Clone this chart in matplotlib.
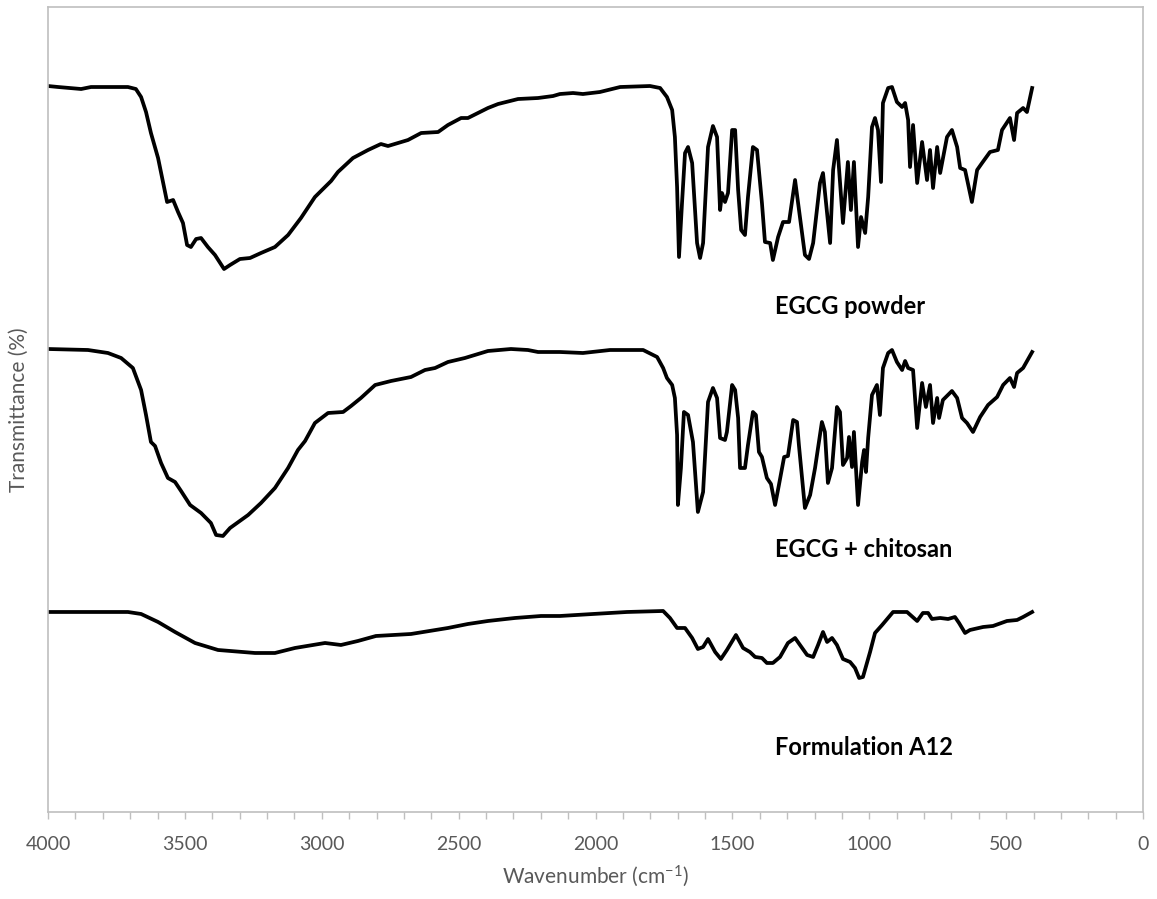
import numpy as np
import matplotlib
matplotlib.use("Agg")
import matplotlib.pyplot as plt
from matplotlib.ticker import MultipleLocator

plt.rcParams['font.family'] = ['Lato', 'DejaVu Sans']
plt.rcParams['mathtext.default'] = 'regular'

# FTIR spectra (wavenumber in cm-1, offset transmittance in a.u.)
egcg_wn = [4000, 3963, 3879, 3843, 3755, 3708, 3679, 3660, 3642, 3624, 3598, 3580, 3565, 3543,
           3525, 3507, 3492, 3478, 3459, 3441, 3416, 3390, 3357, 3335, 3299, 3262, 3222, 3171,
           3123, 3076, 3025, 2966, 2941, 2886, 2831, 2784, 2758, 2685, 2637, 2575, 2539, 2491,
           2466, 2393, 2356, 2283, 2210, 2155, 2130, 2082, 2046, 1984, 1910, 1801, 1764, 1739,
           1720, 1710, 1702, 1695, 1684, 1673, 1662, 1647, 1629, 1618, 1607, 1589, 1571, 1556,
           1545, 1538, 1527, 1516, 1501, 1490, 1479, 1468, 1454, 1443, 1425, 1410, 1392, 1381,
           1362, 1352, 1333, 1315, 1293, 1271, 1260, 1235, 1220, 1205, 1180, 1169, 1143, 1132,
           1118, 1096, 1078, 1067, 1056, 1041, 1030, 1015, 1004, 990, 979, 968, 957, 950, 931,
           917, 899, 880, 869, 858, 851, 840, 825, 807, 789, 778, 767, 752, 741, 716, 698, 679,
           668, 650, 625, 606, 588, 559, 530, 515, 486, 471, 460, 438, 424, 405]
egcg_t = [726, 725, 723, 725, 725, 725, 723, 715, 700, 679, 654, 630, 610, 612,
          600, 589, 567, 565, 573, 574, 565, 557, 543, 547, 553, 554, 559, 565,
          577, 594, 615, 631, 640, 654, 662, 668, 666, 672, 679, 680, 687, 694,
          694, 704, 708, 713, 714, 716, 718, 719, 718, 720, 725, 726, 724, 715,
          702, 675, 625, 555, 609, 659, 665, 649, 569, 554, 569, 665, 686, 675,
          602, 619, 610, 619, 682, 682, 622, 582, 577, 615, 665, 662, 609, 570,
          569, 552, 575, 590, 590, 632, 609, 557, 553, 569, 629, 639, 569, 642,
          672, 589, 650, 602, 650, 565, 595, 579, 615, 685, 694, 682, 630, 709, 724,
          725, 710, 705, 709, 692, 645, 687, 629, 670, 632, 662, 624, 665, 639, 675, 682, 665,
          644, 642, 610, 642, 649, 660, 662, 682, 694, 672, 699, 704, 700, 724]

chit_wn = [4000, 3854, 3781, 3733, 3690, 3660, 3642, 3624, 3609, 3587, 3562, 3536, 3514, 3481,
           3441, 3405, 3386, 3361, 3335, 3269, 3222, 3171, 3123, 3087, 3061, 3025, 2977, 2922,
           2893, 2857, 2805, 2747, 2674, 2623, 2586, 2539, 2477, 2393, 2309, 2247, 2210, 2130,
           2046, 1947, 1826, 1775, 1753, 1739, 1720, 1710, 1702, 1699, 1688, 1677, 1662, 1644,
           1626, 1607, 1589, 1571, 1556, 1545, 1527, 1520, 1501, 1490, 1479, 1472, 1454, 1443,
           1425, 1414, 1403, 1392, 1374, 1359, 1344, 1330, 1311, 1297, 1278, 1264, 1257, 1235,
           1216, 1198, 1173, 1162, 1151, 1136, 1118, 1107, 1096, 1081, 1074, 1063, 1056, 1041,
           1026, 1019, 1012, 1004, 990, 972, 961, 950, 931, 917, 899, 880, 869, 858, 840, 825,
           807, 793, 778, 767, 752, 745, 731, 698, 679, 661, 643, 621, 595, 566, 533, 511, 486,
           471, 460, 438, 405]
chit_t = [463, 462, 459, 454, 444, 422, 397, 370, 366, 349, 334, 330, 321, 307,
          299, 289, 277, 276, 284, 297, 309, 324, 344, 362, 371, 389, 399, 400,
          406, 414, 427, 431, 435, 442, 444, 450, 454, 461, 463, 462, 460, 460,
          459, 462, 462, 455, 444, 434, 427, 414, 377, 307, 344, 400, 397, 370,
          300, 320, 410, 424, 414, 374, 372, 380, 427, 422, 394, 344, 344, 367,
          400, 397, 360, 355, 334, 328, 307, 327, 355, 356, 392, 390, 367, 304,
          317, 344, 390, 380, 329, 344, 405, 400, 347, 354, 375, 345, 380, 307,
          350, 362, 340, 374, 417, 427, 397, 444, 459, 462, 450, 442, 451, 444, 442, 384,
          429, 405, 427, 389, 414, 394, 412, 421, 414, 394, 389, 380, 395, 407, 415, 427, 434,
          425, 439, 444, 460]

a12_wn = [4000, 3708, 3660, 3598, 3536, 3463, 3379, 3244, 3171, 3098, 2988, 2930, 2868, 2802,
          2674, 2539, 2466, 2393, 2294, 2199, 2130, 2009, 1885, 1753, 1728, 1702, 1673, 1647,
          1626, 1607, 1589, 1563, 1542, 1520, 1487, 1461, 1436, 1417, 1392, 1374, 1352, 1326,
          1297, 1271, 1253, 1227, 1205, 1187, 1169, 1154, 1136, 1118, 1096, 1070, 1052, 1037,
          1023, 997, 979, 953, 913, 862, 825, 804, 785, 771, 741, 712, 687, 672, 650, 632,
          584, 548, 497, 460, 438, 405]
a12_t = [200, 200, 198, 190, 180, 169, 162, 159, 159, 164, 169, 167, 171, 176,
         178, 184, 188, 191, 194, 196, 196, 198, 200, 201, 194, 184, 184, 174,
         163, 165, 173, 160, 153, 162, 177, 164, 160, 155, 154, 149, 149, 155,
         169, 174, 167, 157, 155, 167, 180, 170, 174, 167, 153, 150, 144, 134,
         135, 160, 179, 187, 200, 200, 191, 199, 199, 193, 194, 193, 195, 189, 179, 182,
         185, 186, 191, 192, 195, 200]

series = [(egcg_wn, egcg_t, "EGCG powder", 505),
          (chit_wn, chit_t, "EGCG + chitosan", 262),
          (a12_wn, a12_t, "Formulation A12", 64)]

fig = plt.figure(figsize=(11.57, 8.99), dpi=100)
ax = fig.add_axes([0.0415, 0.0968, 0.9464, 0.8954])

for wn, t, name, label_y in series:
    ax.plot(wn, t, color='black', linewidth=2.7, solid_joinstyle='round')
    ax.text(1345, label_y, name, fontsize=17, fontweight='bold', ha='left', va='center')

ax.set_xlim(4000, 0)
ax.set_ylim(0, 805)
ax.xaxis.set_major_locator(MultipleLocator(500))
ax.xaxis.set_minor_locator(MultipleLocator(100))
ax.set_yticks([])

grey = '#bfbfbf'
for s in ax.spines.values():
    s.set_color(grey)
    s.set_linewidth(1.2)
ax.tick_params(axis='x', which='both', direction='out', color=grey, length=5, width=1,
               labelcolor='#595959', labelsize=14, pad=12)

ax.set_xlabel('Wavenumber (cm$^{-1}$)', fontsize=15, color='#595959', labelpad=8)
ax.set_ylabel('Transmittance (%)', fontsize=15, color='#595959', labelpad=14)

fig.savefig('out.png', dpi=100)
